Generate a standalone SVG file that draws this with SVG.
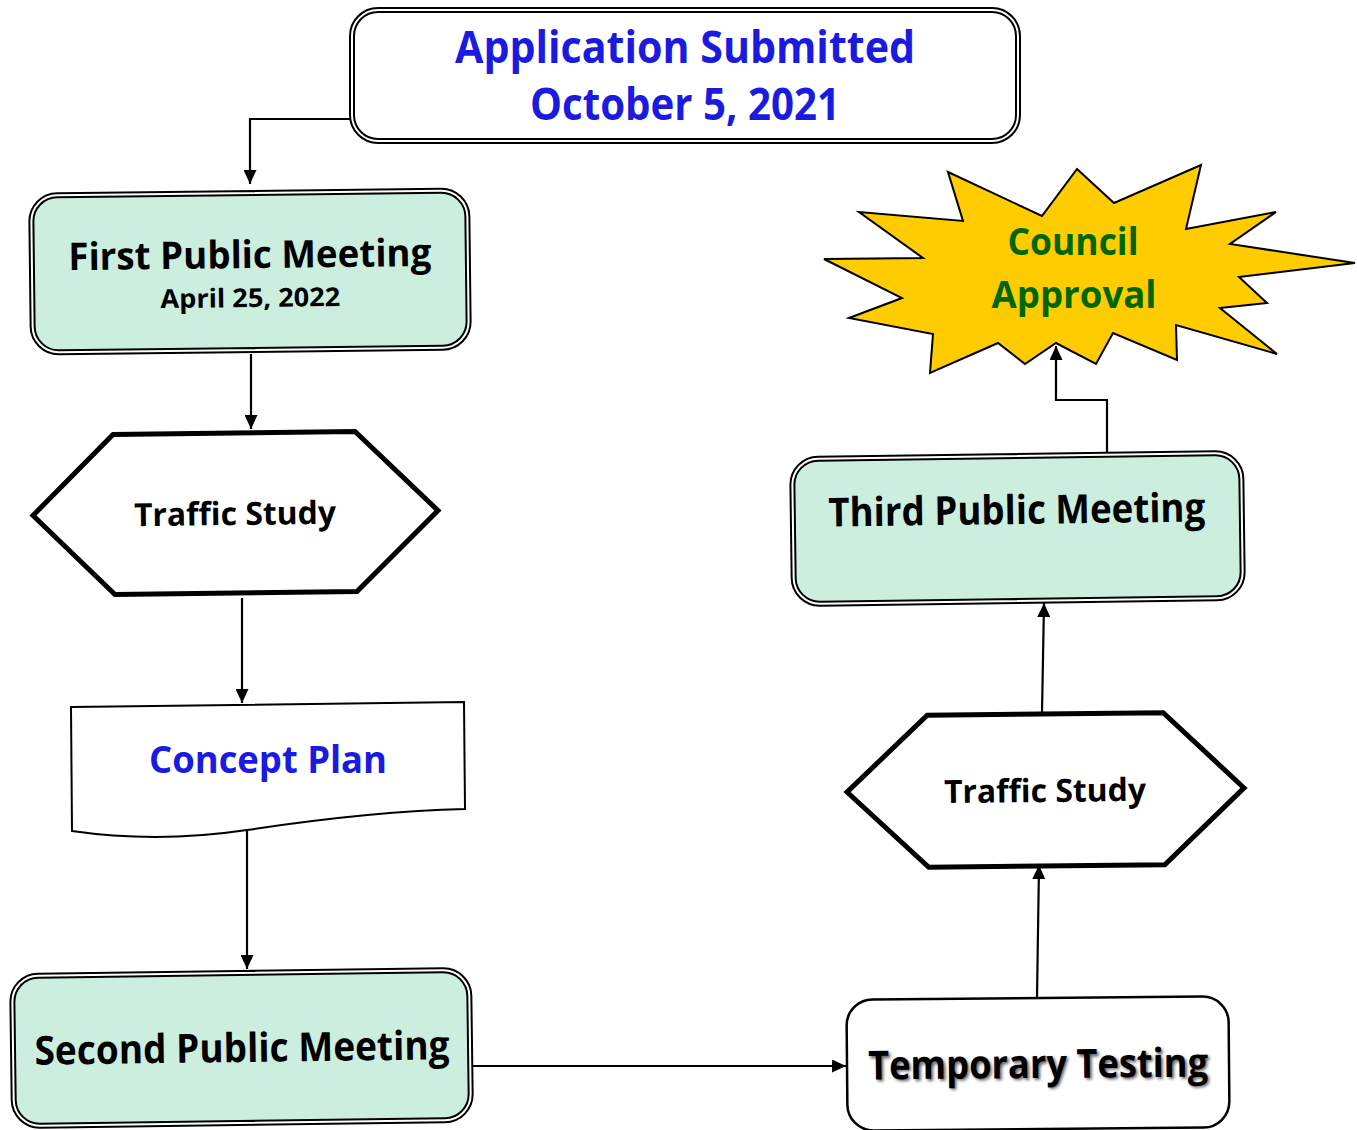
<svg xmlns="http://www.w3.org/2000/svg" width="1357" height="1130" viewBox="0 0 1357 1130">
<style>
text{font-family:"Open Sans","Noto Sans","Liberation Sans",sans-serif;font-weight:bold;text-anchor:middle}
.dbl-o{stroke:#000;stroke-width:6}
.dbl-i{fill:none;stroke:#fff;stroke-width:2}
.mint{fill:#cbeedf}
.hex{fill:#fff;stroke:#000;stroke-width:5;stroke-linejoin:miter}
.con{fill:none;stroke:#000;stroke-width:2.2}
.blue{fill:#1a1ae0}
.blk{fill:#000}
</style>
<defs>
<marker id="ah" viewBox="0 0 14 13" refX="14" refY="6.5" markerWidth="14" markerHeight="13" markerUnits="userSpaceOnUse" orient="auto">
<path d="M0,0 L14,6.5 L0,13 Z" fill="#000"/>
</marker>
<filter id="sh" x="-5%" y="-20%" width="110%" height="140%"><feGaussianBlur stdDeviation="1.5"/></filter>
</defs>
<rect width="1357" height="1130" fill="#fff"/>

<g id="connectors">
<polyline class="con" points="352,119 250,119 250,184" marker-end="url(#ah)"/>
<line class="con" x1="251" y1="354" x2="251" y2="429" marker-end="url(#ah)"/>
<line class="con" x1="242" y1="598" x2="242" y2="703" marker-end="url(#ah)"/>
<line class="con" x1="247" y1="830" x2="247" y2="969" marker-end="url(#ah)"/>
<line class="con" x1="468" y1="1066" x2="846" y2="1066" marker-end="url(#ah)"/>
<line class="con" x1="1037" y1="997" x2="1039" y2="865" marker-end="url(#ah)"/>
<line class="con" x1="1042" y1="713" x2="1044" y2="603" marker-end="url(#ah)"/>
<polyline class="con" points="1107,452 1107,400 1056,400 1056,346" marker-end="url(#ah)"/>
</g>

<g id="n-application">
<rect class="dbl-o" x="352" y="10" width="666" height="131" rx="26" fill="#fff"/>
<rect class="dbl-i" x="352" y="10" width="666" height="131" rx="26"/>
<text class="blue" x="685" y="63" font-size="44" textLength="460" lengthAdjust="spacingAndGlyphs">Application Submitted</text>
<text class="blue" x="685" y="120" font-size="44" textLength="310" lengthAdjust="spacingAndGlyphs">October 5, 2021</text>
</g>

<g id="n-first" transform="rotate(-0.67 250 271)">
<rect class="dbl-o mint" x="32" y="193" width="436" height="157" rx="26"/>
<rect class="dbl-i" x="32" y="193" width="436" height="157" rx="26"/>
<text class="blk" x="250" y="268" font-size="38" textLength="363" lengthAdjust="spacingAndGlyphs">First Public Meeting</text>
<text class="blk" x="250" y="307" font-size="26" textLength="180" lengthAdjust="spacingAndGlyphs">April 25, 2022</text>
</g>

<g id="n-traffic1" transform="rotate(-0.7 236 513)">
<polygon class="hex" points="33,513 114,433 356,433 438,513 356,593 114,593"/>
<text class="blk" x="235" y="525" font-size="32" textLength="202" lengthAdjust="spacingAndGlyphs">Traffic Study</text>
</g>

<g id="n-concept">
<path d="M71,707 L464,702 L465,809 C380,811 300,822 247,830 C180,840 120,838 72,831 Z" fill="#fff" stroke="#000" stroke-width="2"/>
<text class="blue" x="268" y="773" font-size="38" textLength="238" lengthAdjust="spacingAndGlyphs">Concept Plan</text>
</g>

<g id="n-second" transform="rotate(-0.76 241 1046)">
<rect class="dbl-o mint" x="13" y="973" width="457" height="150" rx="26"/>
<rect class="dbl-i" x="13" y="973" width="457" height="150" rx="26"/>
<text class="blk" x="242" y="1062" font-size="40" textLength="415" lengthAdjust="spacingAndGlyphs">Second Public Meeting</text>
</g>

<g id="n-temporary" transform="rotate(-0.5 1038 1063)">
<rect x="847" y="998" width="382" height="131" rx="26" fill="#fff" stroke="#000" stroke-width="2.5"/>
<text x="1040" y="1080" font-size="40" fill="#666" filter="url(#sh)" textLength="340" lengthAdjust="spacingAndGlyphs">Temporary Testing</text>
<text class="blk" x="1038" y="1078" font-size="40" textLength="340" lengthAdjust="spacingAndGlyphs">Temporary Testing</text>
</g>

<g id="n-traffic2" transform="rotate(-0.6 1045 789)">
<polygon class="hex" points="847,790 928,714 1164,714 1244,790 1164,866 928,866"/>
<text class="blk" x="1045" y="802" font-size="32" textLength="202" lengthAdjust="spacingAndGlyphs">Traffic Study</text>
</g>

<g id="n-third" transform="rotate(-0.77 1017 527)">
<rect class="dbl-o mint" x="793" y="456" width="449" height="145" rx="26"/>
<rect class="dbl-i" x="793" y="456" width="449" height="145" rx="26"/>
<text class="blk" x="1017" y="524" font-size="40" textLength="377" lengthAdjust="spacingAndGlyphs">Third Public Meeting</text>
</g>

<g id="n-council">
<polygon fill="#ffcc00" stroke="#000" stroke-width="2" points="948,172 1042,216 1077,169 1114,203 1201,165 1186,229 1276,212 1230,244 1355,263 1239,277 1267,303 1220,308 1277,354 1176,325 1177,360 1113,333 1096,364 1056,343 1025,364 998,343 930,373 933,334 849,318 902,298 824,259 923,258 859,212 963,221"/>
<text x="1073" y="255" font-size="38" fill="#006600" textLength="131" lengthAdjust="spacingAndGlyphs">Council</text>
<text x="1074" y="308" font-size="38" fill="#006600" textLength="165" lengthAdjust="spacingAndGlyphs">Approval</text>
</g>
</svg>
